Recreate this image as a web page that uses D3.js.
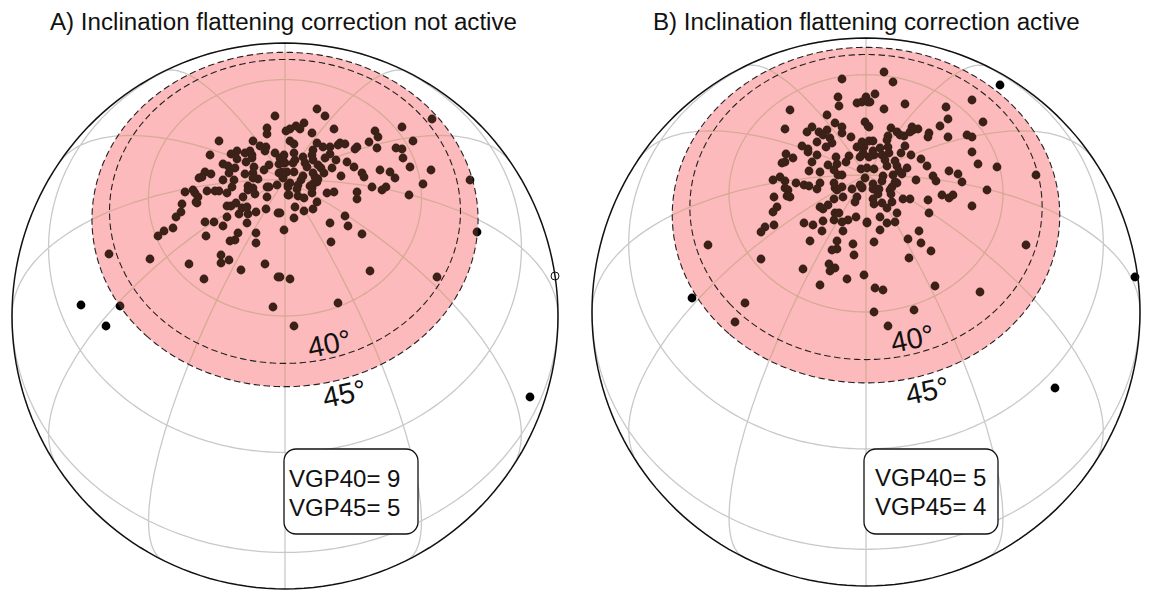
<!DOCTYPE html>
<html>
<head>
<meta charset="utf-8">
<script src="https://cdn.jsdelivr.net/npm/d3@7"></script>
<style>
  html, body { margin: 0; background: #fff; }
  text { font-family: "Liberation Sans", Arial, sans-serif; fill: #111; }
</style>
</head>
<body>
<div id="container"></div>
<script>
// VGP positions, in plane units from the disc centre (x east, y up)
const polesA = [
  [-10,200],[-18,188],[-18,182],[1,185],[-66,175],[-32,175],[-25,170],[-19,169],[-20,165],[-10,163],
  [-1,161],[-5,158],[-35,165],[-48,165],[-54,162],[-75,161],[-40,163],[-33,161],[-48,157],[-39,154],
  [-33,158],[-62,152],[-57,150],[-50,148],[-56,143],[-31,149],[-16,151],[-21,146],[-6,152],[-1,153],
  [-6,143],[2,144],[-2,138],[-80,144],[-74,142],[-86,138],[-83,139],[-62,136],[-40,142],[-32,143],
  [-32,138],[-27,137],[-51,136],[-53,129],[-37,130],[-32,128],[-37,126],[-18,129],[-16,129],[-8,131],
  [3,131],[-100,124],[-92,126],[-90,123],[-87,119],[-78,125],[-70,125],[-66,125],[-58,123],[-30,122],
  [-42,119],[-18,119],[3,121],
  [32,207],[40,200],[19,193],[11,190],[5,187],[15,187],[27,183],[49,187],[90,185],[93,179],
  [117,189],[128,175],[84,174],[92,168],[72,169],[70,167],[55,173],[60,172],[53,171],[111,168],
  [117,167],[118,158],[125,149],[146,146],[147,197],[185,136],[138,132],[124,121],[110,138],[105,144],
  [95,146],[87,129],[101,129],[97,126],[77,143],[79,139],[69,149],[62,154],[51,156],[56,140],
  [47,148],[40,158],[45,162],[45,169],[38,169],[32,173],[28,166],[27,161],[28,156],[5,175],
  [9,172],[9,163],[-2,159],[10,156],[18,159],[20,153],[0,153],[8,153],[33,151],[36,148],
  [39,143],[28,143],[22,149],[-3,144],[9,144],[18,140],[16,136],[30,139],[33,137],[32,134],
  [28,132],[25,130],[27,123],[5,133],[3,129],[13,131],[12,127],[-2,139],[4,121],[13,120],
  [19,118],[42,123],[49,124],[72,124],[72,117],[27,128],
  [32,114],[28,107],[19,105],[10,109],[9,98],[-5,103],[-1,86],[60,100],[45,93],[63,90],
  [77,82],[46,74],[192,84],[85,45],[152,39],[53,13],[9,-10],[5,37],[-5,39],
  [-88,113],[-89,114],[-103,112],[-104,104],[-109,99],[-58,110],[-54,110],[-49,113],[-43,108],[-38,109],
  [-46,102],[-37,102],[-29,104],[-19,107],[-7,103],[-58,99],[-80,94],[-71,94],[-62,90],[-38,93],
  [-47,83],[-29,83],[-29,73],[-50,76],[-55,75],[-79,80],[-112,88],[-121,85],[-127,80],[-176,62],
  [-135,57],[-96,52],[-64,61],[-64,53],[-56,56],[-81,37],[-44,46],[-20,52],[-7,39],[-12,9],
  [-165,10],[-204,11],[-179,-10],[245,-81]
];
const openA = [[270,40]];

const polesB = [
  [-24,233],[-28,215],[-27,206],[0,215],[-4,210],[-9,209],[2,210],[-76,202],[-39,197],[-31,189],
  [-24,185],[-24,179],[-1,190],[2,186],[-81,183],[-54,185],[-59,180],[-47,180],[-39,182],[-43,177],
  [-15,175],[-36,174],[-34,169],[-49,170],[-40,165],[-64,166],[-58,163],[-58,160],[-4,170],[-9,165],
  [-2,165],[-3,159],[-6,155],[-49,157],[-80,158],[-73,154],[-54,150],[-81,150],[-84,149],[-30,155],
  [-17,156],[-20,150],[-38,147],[-29,148],[-32,142],[-57,141],[-46,140],[-5,143],[1,144],[-28,137],
  [-24,137],[-1,134],[-93,132],[-86,135],[-81,131],[-70,129],[-62,127],[-57,126],[-46,129],[-49,123],
  [-32,129],[-31,124],[-24,125],[-29,122],[-81,124],[-78,122],[-14,123],[-6,127],[-4,124],[-92,115],
  [-79,116],[-76,115],[-32,113],[-23,115],[-9,115],
  [134,227],[18,240],[27,230],[9,218],[4,210],[39,208],[18,203],[3,185],[106,212],[80,205],
  [82,193],[117,190],[74,186],[25,184],[31,180],[34,177],[38,176],[46,185],[47,182],[52,183],
  [44,180],[63,179],[62,175],[82,175],[101,177],[106,175],[22,176],[21,172],[22,165],[3,171],
  [7,171],[-4,167],[39,166],[35,159],[23,159],[14,164],[16,157],[7,161],[8,157],[3,155],
  [-3,158],[19,152],[21,146],[29,151],[31,146],[33,141],[36,138],[45,157],[55,153],[61,146],
  [41,144],[106,160],[112,148],[131,145],[170,137],[83,141],[92,138],[96,130],[67,136],[70,131],
  [50,132],[27,137],[29,130],[31,129],[26,125],[24,122],[25,118],[17,136],[16,131],[7,128],
  [7,123],[13,123],[12,118],[8,143],[-4,125],[121,122],[76,117],[87,117],[83,114],[44,113],
  [37,113],[62,112],[7,113],
  [106,106],[63,99],[26,110],[16,109],[8,108],[21,104],[31,99],[14,95],[21,89],[29,90],
  [1,90],[14,82],[8,70],[53,81],[42,73],[55,69],[65,61],[43,54],[160,67],[69,26],
  [114,20],[-2,37],[9,24],[17,22],[8,0],[48,2],[22,-14],
  [-11,110],[-46,105],[-43,103],[-38,107],[-89,105],[-93,100],[-31,99],[-27,99],[-10,95],[-18,92],
  [-24,90],[-32,92],[-43,91],[-62,89],[-53,87],[1,89],[-92,87],[-101,85],[-105,80],[-44,81],
  [-23,81],[-56,71],[-29,71],[-13,68],[-29,63],[-34,62],[-12,57],[-158,67],[-105,53],[-37,48],
  [-31,44],[-36,41],[-63,43],[-19,33],[-46,27],[-174,14],[-121,9],[-131,-10],[269,35],[189,-76]
];
const openB = [];

const capRadii = [45, 40];
const titles = ["A) Inclination flattening correction not active", "B) Inclination flattening correction active"];
const countLabels = [["VGP40= 9", "VGP45= 5"], ["VGP40= 5", "VGP45= 4"]];

const panels = [
  { cx: 285, cy: 316, r: 273, poles: polesA, open: openA, titleX: 50, boxX: 284, boxY: 449, textX: 289, base: [487, 516], l40: [310, 358], l45: [325, 408] },
  { cx: 866, cy: 312, r: 274, poles: polesB, open: openB, titleX: 653, boxX: 864, boxY: 449, textX: 875, base: [486, 515], l40: [893, 353], l45: [908, 405] }
];

const svg = d3.select("#container")
  .append("svg")
  .attr("width", 1152)
  .attr("height", 591);

svg.append("rect").attr("width", 1152).attr("height", 591).attr("fill", "#fff");

const graticule = d3.geoGraticule()
  .step([30, 30])
  .extent([[-180, -90], [180, 90]])
  .precision(1)();

panels.forEach((p, i) => {
  const g = svg.append("g");

  const projection = d3.geoOrthographic()
    .rotate([0, -60])
    .scale(p.r)
    .translate([p.cx, p.cy])
    .precision(0.2);
  const path = d3.geoPath(projection);

  const x = d3.scaleLinear().domain([-p.r, p.r]).range([p.cx - p.r, p.cx + p.r]);
  const y = d3.scaleLinear().domain([-p.r, p.r]).range([p.cy + p.r, p.cy - p.r]);

  const cap = r => d3.geoCircle().center([0, 90]).radius(r).precision(1)();

  function drawLayer(layer, gridColor, dotColor) {
    layer.append("path")
      .datum(graticule)
      .attr("d", path)
      .attr("fill", "none")
      .attr("stroke", gridColor)
      .attr("stroke-width", 1.3);

    layer.selectAll("circle.pole")
      .data(p.poles)
      .enter()
      .append("circle")
      .attr("class", "pole")
      .attr("cx", d => x(d[0]))
      .attr("cy", d => y(d[1]))
      .attr("r", 4.4)
      .attr("fill", dotColor);
  }

  // plain layer, then the same marks again in the tinted colours inside the 45 degree cap
  drawLayer(g.append("g"), "#c9c9c9", "#000");

  g.append("clipPath")
    .attr("id", "cap" + i)
    .append("path")
    .datum(cap(45))
    .attr("d", path);

  const tinted = g.append("g").attr("clip-path", `url(#cap${i})`);
  tinted.append("rect")
    .attr("x", p.cx - p.r)
    .attr("y", p.cy - p.r)
    .attr("width", 2 * p.r)
    .attr("height", 2 * p.r)
    .attr("fill", "#fdbabc");
  drawLayer(tinted, "#d7ab93", "#3c2119");

  g.selectAll("path.cap")
    .data(capRadii)
    .enter()
    .append("path")
    .attr("class", "cap")
    .datum(d => cap(d))
    .attr("d", path)
    .attr("fill", "none")
    .attr("stroke", "#222")
    .attr("stroke-width", 1.1)
    .attr("stroke-dasharray", "6.5 3.5");

  g.selectAll("circle.open")
    .data(p.open)
    .enter()
    .append("circle")
    .attr("class", "open")
    .attr("cx", d => x(d[0]))
    .attr("cy", d => y(d[1]))
    .attr("r", 4)
    .attr("fill", "none")
    .attr("stroke", "#111")
    .attr("stroke-width", 1);

  g.append("path")
    .datum({ type: "Sphere" })
    .attr("d", path)
    .attr("fill", "none")
    .attr("stroke", "#111")
    .attr("stroke-width", 1.5);

  g.append("text")
    .attr("x", p.titleX)
    .attr("y", 30)
    .attr("font-size", 24.15)
    .text(titles[i]);

  [["40°", p.l40], ["45°", p.l45]].forEach(([label, pos]) => {
    g.append("text")
      .attr("transform", `translate(${pos[0]},${pos[1]}) rotate(-12)`)
      .attr("font-size", 29)
      .text(label);
  });

  g.append("rect")
    .attr("x", p.boxX)
    .attr("y", p.boxY)
    .attr("width", 134)
    .attr("height", 85)
    .attr("rx", 12)
    .attr("fill", "#fff")
    .attr("stroke", "#111")
    .attr("stroke-width", 1.3);

  countLabels[i].forEach((label, k) => {
    g.append("text")
      .attr("x", p.textX)
      .attr("y", p.base[k])
      .attr("font-size", 24)
      .text(label);
  });
});
</script>
</body>
</html>
